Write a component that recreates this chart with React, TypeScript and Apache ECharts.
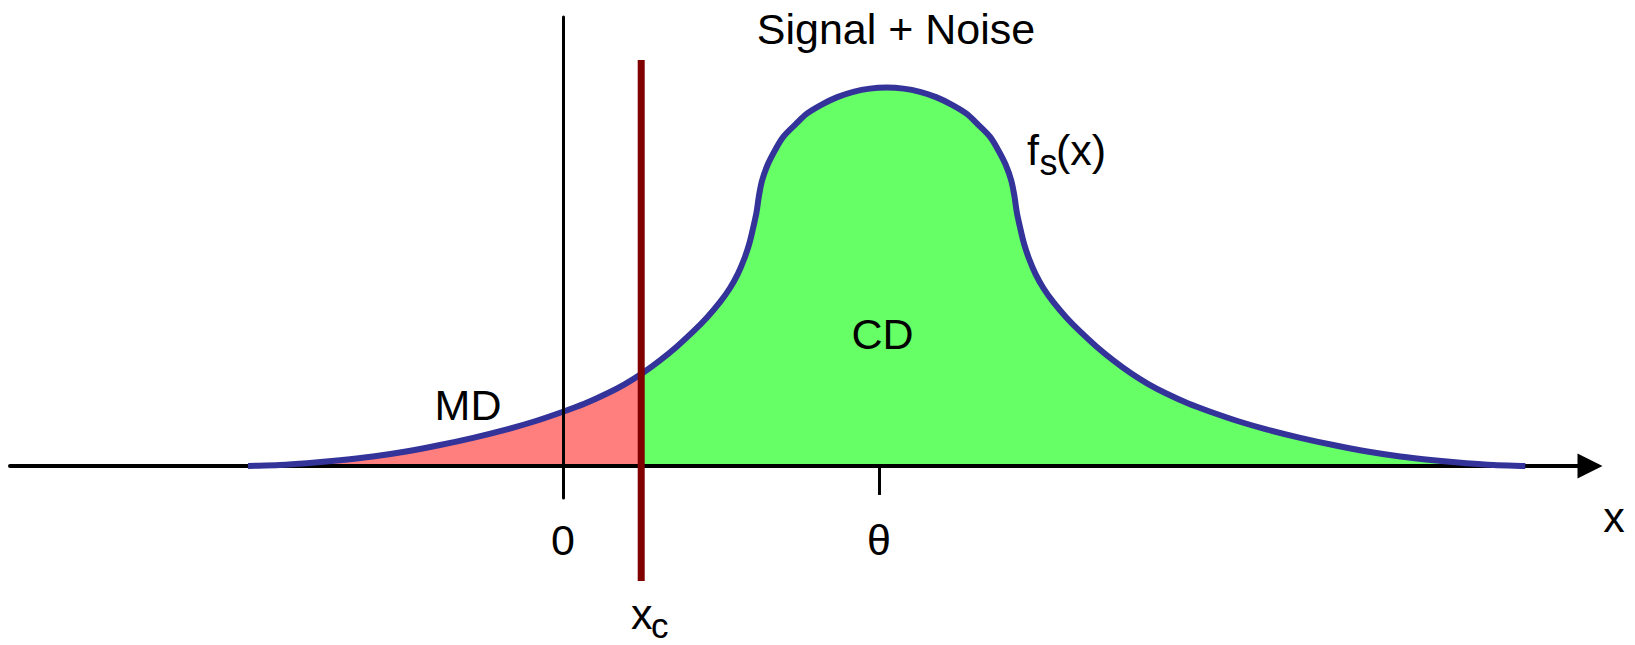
import React, { useEffect, useRef } from "react";
import * as echarts from "echarts";

// Curve f_s(x): [x, density]
const leftTail: [number, number][] = [
  [-3.987, 0.0],
  [-3.582, 0.0022],
  [-3.241, 0.0067],
  [-2.823, 0.0142],
  [-2.405, 0.0235],
  [-1.987, 0.0359],
  [-1.557, 0.0521],
  [-1.139, 0.0701],
  [-0.709, 0.0913],
  [-0.354, 0.1115],
  [0.0, 0.1352],
  [0.278, 0.1557],
  [0.557, 0.1806],
  [0.785, 0.2043],
  [0.99, 0.2293],
  [1.228, 0.2635],
  [1.443, 0.2982],
  [1.646, 0.3349],
  [1.823, 0.3705],
  [1.987, 0.4085],
  [2.114, 0.4439],
  [2.215, 0.4798],
  [2.297, 0.5180],
  [2.361, 0.5566],
  [2.411, 0.5975],
  [2.449, 0.6322],
];

const arcTop: [number, number][] = [
  [2.481, 0.6746],
  [2.52, 0.712],
  [2.589, 0.7507],
  [2.684, 0.7876],
  [2.79, 0.8215],
  [2.943, 0.8522],
  [3.091, 0.8794],
  [3.281, 0.9021],
  [3.472, 0.9201],
  [3.675, 0.9333],
  [3.884, 0.9413],
  [4.097, 0.944],
  [4.31, 0.9413],
  [4.519, 0.9333],
  [4.722, 0.9201],
  [4.913, 0.9021],
  [5.103, 0.8794],
  [5.251, 0.8522],
  [5.404, 0.8215],
  [5.51, 0.7876],
  [5.605, 0.7507],
  [5.674, 0.712],
  [5.713, 0.6746],
];

const rightTail: [number, number][] = [
  [5.745, 0.6322],
  [5.783, 0.5975],
  [5.833, 0.5566],
  [5.897, 0.518],
  [5.979, 0.4798],
  [6.08, 0.4439],
  [6.207, 0.4085],
  [6.371, 0.3705],
  [6.548, 0.3349],
  [6.751, 0.2982],
  [6.966, 0.2635],
  [7.204, 0.2293],
  [7.409, 0.2043],
  [7.637, 0.1806],
  [7.916, 0.1557],
  [8.194, 0.1352],
  [8.548, 0.1115],
  [8.903, 0.0913],
  [9.333, 0.0701],
  [9.751, 0.0521],
  [10.181, 0.0359],
  [10.599, 0.0235],
  [11.017, 0.0142],
  [11.435, 0.0067],
  [11.776, 0.0022],
  [12.181, 0.0],
];

const XC = 0.99; // threshold x_c
const XC_LINE_Y: [number, number] = [-0.287, 1.013];
const xTickValues = [0, 4];
const xTickLabels = ["0", "θ"];
const thetaTickValues = [4];

const FONT = "'Liberation Sans', Arial, Helvetica, sans-serif";
const FS = 43;
const SUB = 35;

type Pt = [number, number];

function dist(a: Pt, b: Pt) {
  return Math.hypot(b[0] - a[0], b[1] - a[1]);
}

// Smooth cubic segments through pixel points (chord-length Catmull-Rom)
function buildSegments(pts: Pt[]) {
  const n = pts.length;
  const tan: Pt[] = pts.map((p, i) => {
    const prev = pts[Math.max(i - 1, 0)];
    const next = pts[Math.min(i + 1, n - 1)];
    const d0 = i > 0 ? dist(prev, p) : 0;
    const d1 = i < n - 1 ? dist(p, next) : 0;
    const den = d0 + d1 || 1;
    return [(next[0] - prev[0]) / den, (next[1] - prev[1]) / den];
  });
  const segs: Pt[][] = [];
  for (let i = 0; i < n - 1; i++) {
    const p = pts[i];
    const q = pts[i + 1];
    const d = dist(p, q) / 3;
    segs.push([
      [p[0] + tan[i][0] * d, p[1] + tan[i][1] * d],
      [q[0] - tan[i + 1][0] * d, q[1] - tan[i + 1][1] * d],
      q,
    ]);
  }
  return segs;
}

function segPath(start: Pt, segs: Pt[][]) {
  let d = `M${start[0]},${start[1]}`;
  for (const s of segs) {
    d += ` C${s[0][0]},${s[0][1]} ${s[1][0]},${s[1][1]} ${s[2][0]},${s[2][1]}`;
  }
  return d;
}

function txt(
  text: string,
  x: number,
  y: number,
  size: number,
  align: string = "left",
  lineHeight?: number
) {
  const style: any = {
    text,
    font: `${size}px ${FONT}`,
    fill: "#000",
    align,
    verticalAlign: "middle",
    textAlign: align,
    textVerticalAlign: "middle",
  };
  if (lineHeight) style.lineHeight = lineHeight;
  return { type: "text", x, y, z: 10, style };
}

export default function App() {
  const ref = useRef<HTMLDivElement>(null);

  useEffect(() => {
    const chart = echarts.init(ref.current!, null, { renderer: "svg" });
    const curve: Pt[] = [...leftTail, ...arcTop, ...rightTail];
    const kXc = curve.findIndex((p) => p[0] >= XC);

    const fillRender = (params: any, api: any) => {
      const px: Pt[] = curve.map((p) => api.coord(p) as Pt);
      const segs = buildSegments(px);
      const base = (x: number) => api.coord([x, 0]) as Pt;
      const redD =
        segPath(px[0], segs.slice(0, kXc)) +
        ` L${base(curve[kXc][0])[0]},${base(0)[1]} L${px[0][0]},${base(0)[1]} Z`;
      const last = curve.length - 1;
      const greenD =
        segPath(px[kXc], segs.slice(kXc)) +
        ` L${px[last][0]},${base(0)[1]} L${px[kXc][0]},${base(0)[1]} Z`;
      return {
        type: "group",
        children: [
          { type: "path", shape: { pathData: redD }, style: { fill: "#FF7F7F", stroke: null } },
          { type: "path", shape: { pathData: greenD }, style: { fill: "#66FF66", stroke: null } },
        ],
      };
    };

    const strokeRender = (params: any, api: any) => {
      const px: Pt[] = curve.map((p) => api.coord(p) as Pt);
      const segs = buildSegments(px);
      return {
        type: "path",
        shape: { pathData: segPath(px[0], segs) },
        style: { fill: "none", stroke: "#333399", lineWidth: 6, lineJoin: "round" },
      };
    };

    const option: any = {
      animation: false,
      backgroundColor: "#ffffff",
      grid: { left: 10, top: 17, width: 1580, height: 481, outerBoundsMode: "none", containLabel: false },
      xAxis: {
        type: "value",
        min: -7,
        max: 13,
        z: 2,
        axisLine: {
          show: true,
          onZero: true,
          symbol: ["none", "triangle"],
          symbolSize: [25, 25],
          lineStyle: { color: "#000", width: 4 },
        },
        axisTick: {
          show: true,
          customValues: thetaTickValues,
          length: 29,
          lineStyle: { color: "#000", width: 3 },
        },
        axisLabel: {
          show: true,
          customValues: xTickValues,
          formatter: (v: number) => {
            const i = xTickValues.indexOf(v);
            return i >= 0 ? xTickLabels[i] : "";
          },
          margin: 20,
          fontSize: FS,
          fontFamily: FONT,
          color: "#000",
        },
        splitLine: { show: false },
      },
      yAxis: {
        type: "value",
        min: -0.08,
        max: 1.12,
        z: 4,
        axisLine: { show: true, onZero: true, lineStyle: { color: "#000", width: 3 } },
        axisTick: { show: false },
        axisLabel: { show: false },
        splitLine: { show: false },
      },
      series: [
        {
          type: "custom",
          renderItem: fillRender,
          data: [[XC, 0]],
          z: 1,
          silent: true,
          clip: false,
        },
        {
          type: "custom",
          renderItem: strokeRender,
          data: [[XC, 0]],
          z: 3,
          silent: true,
          clip: false,
        },
        {
          type: "line",
          data: [
            [XC, XC_LINE_Y[0]],
            [XC, XC_LINE_Y[1]],
          ],
          symbol: "none",
          clip: false,
          z: 5,
          silent: true,
          lineStyle: { width: 7, color: "#800000", cap: "butt" },
        },
      ],
      graphic: [
        txt("Signal + Noise", 896, 29.1, FS, "center"),
        txt("MD", 468, 405.1, FS, "center"),
        txt("CD", 882.5, 334.4, FS, "center"),
        txt("x", 1614, 516.9, FS, "center"),
        txt("f", 1027, 149.6, FS),
        txt("s", 1039.5, 162.5, 36),
        txt("(x)", 1056, 149.6, FS),
        txt("x", 631, 614.1, FS),
        txt("c", 651, 625.4, SUB, "left", 32),
      ],
    };

    chart.setOption(option);
    return () => chart.dispose();
  }, []);

  return (
    <div
      ref={ref}
      style={{ position: "fixed", left: 0, top: 0, width: 1635, height: 645, background: "#fff" }}
    />
  );
}
